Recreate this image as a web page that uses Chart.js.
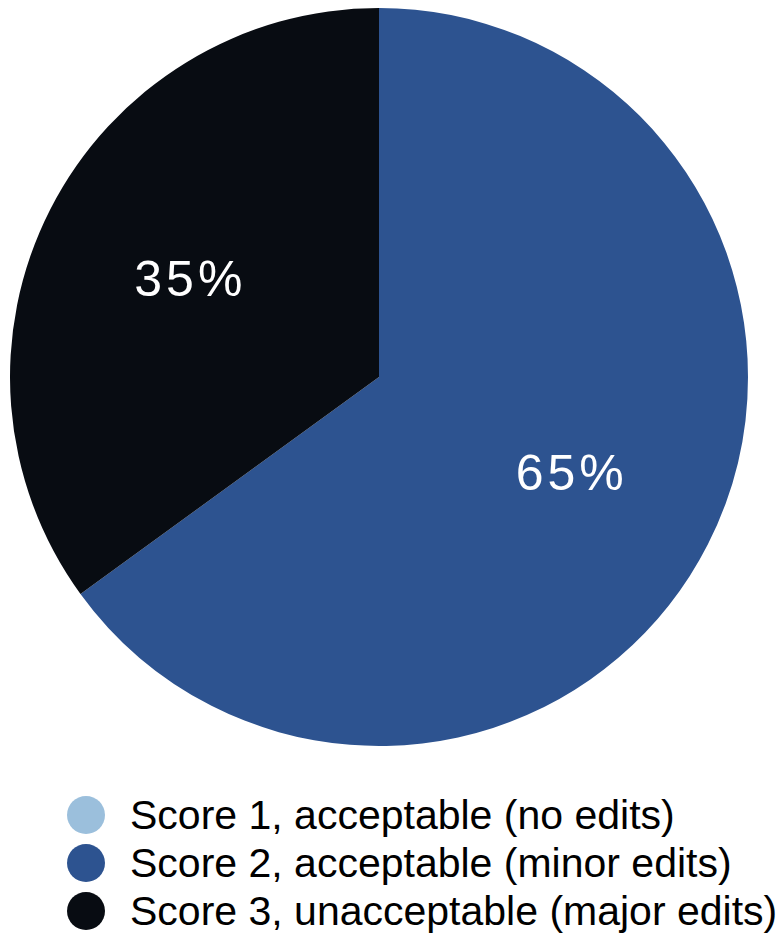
<!DOCTYPE html>
<html>
<head>
<meta charset="utf-8">
<script src="https://cdn.jsdelivr.net/npm/chart.js@4/dist/chart.umd.min.js"></script>
<style>
  html, body { margin: 0; padding: 0; background: #fff; }
  body { width: 783px; height: 942px; position: relative; overflow: hidden; font-family: "Liberation Sans", Arial, sans-serif; }
  #pieWrap { position: absolute; left: 10px; top: 8px; width: 738px; height: 738px; }
  #legend { position: absolute; left: 67px; top: 791px; }
  .row { display: flex; align-items: center; height: 48px; }
  .dot { width: 38px; height: 38px; border-radius: 50%; flex: none; }
  .txt { margin-left: 25px; font-size: 41px; color: #000; white-space: nowrap; line-height: 48px; }
</style>
</head>
<body>
<div id="pieWrap"><canvas id="myChart" width="738" height="738"></canvas></div>
<div id="legend"></div>
<script>
// data
const categories = [
  'Score 1, acceptable (no edits)',
  'Score 2, acceptable (minor edits)',
  'Score 3, unacceptable (major edits)'
];
const shares = [0, 65, 35];
const sliceColors = ['#9bbfdc', '#2d5390', '#080c12'];

// percent labels inside slices
const sliceLabels = {
  id: 'sliceLabels',
  afterDatasetsDraw(chart) {
    const ctx = chart.ctx;
    const meta = chart.getDatasetMeta(0);
    ctx.save();
    ctx.fillStyle = '#ffffff';
    ctx.font = '50px "Liberation Sans", Arial, sans-serif';
    ctx.letterSpacing = '4px';
    ctx.textAlign = 'center';
    ctx.textBaseline = 'middle';
    meta.data.forEach(function(arc, i) {
      if (!shares[i]) return;
      const p = arc.getProps(['x', 'y', 'startAngle', 'endAngle', 'outerRadius'], true);
      const mid = (p.startAngle + p.endAngle) / 2;
      const r = p.outerRadius * 0.58;
      ctx.fillText(shares[i] + '%', p.x + Math.cos(mid) * r + 2, p.y + Math.sin(mid) * r + 2);
    });
    ctx.restore();
  }
};

const myChart = new Chart(document.getElementById('myChart'), {
  type: 'pie',
  data: {
    labels: categories,
    datasets: [{
      data: shares,
      backgroundColor: sliceColors,
      borderWidth: 0,
      hoverOffset: 0
    }]
  },
  options: {
    responsive: false,
    animation: false,
    layout: { padding: 0 },
    plugins: {
      legend: { display: false },
      tooltip: { enabled: false }
    }
  },
  plugins: [sliceLabels]
});

// html legend from the chart's own labels
const legendBox = document.getElementById('legend');
Chart.overrides.pie.plugins.legend.labels.generateLabels(myChart).forEach(function(item) {
  const row = document.createElement('div');
  row.className = 'row';
  const dot = document.createElement('span');
  dot.className = 'dot';
  dot.style.background = item.fillStyle;
  const txt = document.createElement('span');
  txt.className = 'txt';
  txt.textContent = item.text;
  row.appendChild(dot);
  row.appendChild(txt);
  legendBox.appendChild(row);
});
</script>
</body>
</html>
